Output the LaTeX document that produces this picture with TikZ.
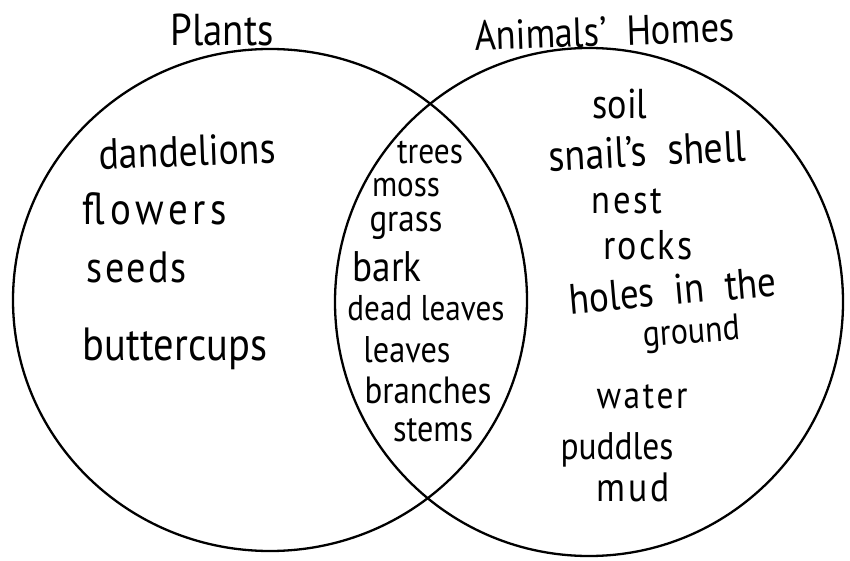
\documentclass[tikz,border=0pt]{standalone}
\usepackage{fontspec}
\setmainfont{PT Sans}
\usepackage{graphicx}
\newcommand{\hw}[2]{\resizebox{#1pt}{!}{\scalebox{1}[1.15]{#2}}}
\newcommand{\wsp}{\hspace{0.55em}}
\begin{document}
\begin{tikzpicture}[x=1pt,y=-1pt,
  ring/.style={line width=2.3pt, black},
  word/.style={anchor=base, inner sep=0pt, outer sep=0pt, text=black}]
\useasboundingbox (0,0) rectangle (850,561);
% circles
\draw[ring] (270,300) ellipse [x radius=257pt, y radius=251pt];
\draw[ring] (589,302) ellipse [x radius=254pt, y radius=254pt];
% titles
\node[word] (tplants) at (222,46) {\hw{103}{Plants}};
\node[word, rotate=2] (tanimals) at (605,46) {\hw{260}{Animals'\wsp Homes}};
% plants only
\node[word, rotate=2] (dandelions) at (188,166) {\hw{177}{dandelions}};
\node[word] (flowers) at (155,225) {\hw{144}{\addfontfeature{LetterSpace=12}flowers}};
\node[word] (seeds) at (137,282) {\hw{100}{\addfontfeature{LetterSpace=6}seeds}};
\node[word] (buttercups) at (175,360) {\hw{184}{buttercups}};
% both
\node[word] (trees) at (430,164) {\hw{66}{trees}};
\node[word] (moss) at (406,197) {\hw{68}{moss}};
\node[word] (grass) at (406,231) {\hw{73}{grass}};
\node[word] (bark) at (387,281) {\hw{69}{bark}};
\node[word] (deadleaves) at (426,320) {\hw{157}{dead leaves}};
\node[word] (leaves) at (407,362) {\hw{87}{leaves}};
\node[word] (branches) at (428,403) {\hw{127}{branches}};
\node[word] (stems) at (433,441) {\hw{80}{stems}};
% animals' homes only
\node[word] (soil) at (620,119) {\hw{55}{soil}};
\node[word, rotate=3] (snail) at (648,166) {\hw{197}{snail's\wsp shell}};
\node[word] (nest) at (627,214) {\hw{71}{\addfontfeature{LetterSpace=8}nest}};
\node[word] (rocks) at (648,259) {\hw{89}{\addfontfeature{LetterSpace=6}rocks}};
\node[word, rotate=5] (holes) at (674,305) {\hw{208}{holes\wsp in\wsp the}};
\node[word, rotate=4] (ground) at (692,343) {\hw{97}{ground}};
\node[word] (water) at (642,408) {\hw{91}{\addfontfeature{LetterSpace=8}water}};
\node[word] (puddles) at (617,459) {\hw{113}{puddles}};
\node[word] (mud) at (633,501) {\hw{73}{\addfontfeature{LetterSpace=8}mud}};
\end{tikzpicture}
\end{document}
